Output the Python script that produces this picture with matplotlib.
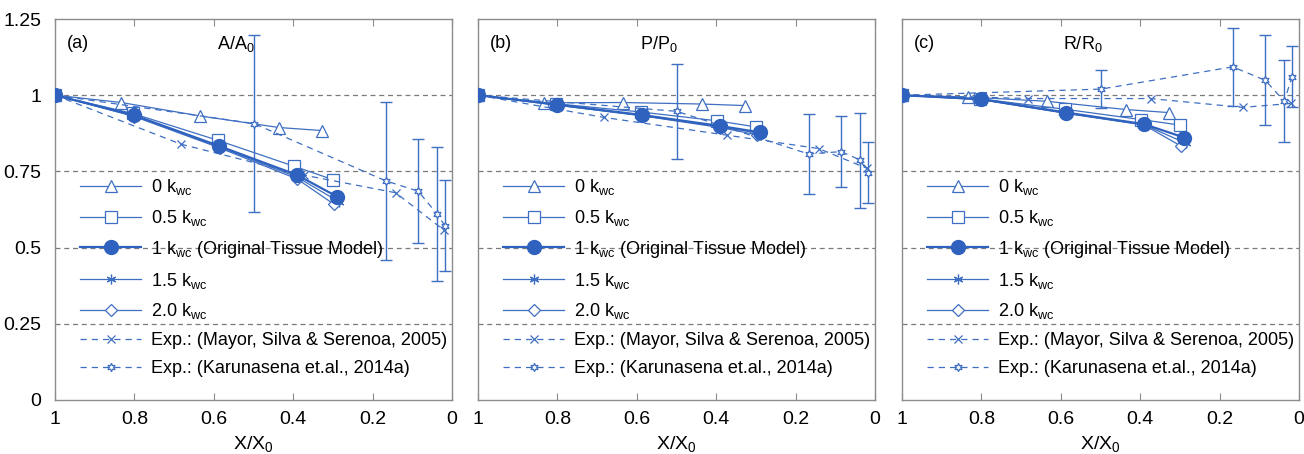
import matplotlib
matplotlib.use("Agg")
import matplotlib.pyplot as plt

plt.rcParams["font.family"] = ["Liberation Sans", "DejaVu Sans"]
plt.rcParams["mathtext.fontset"] = "custom"
plt.rcParams["mathtext.rm"] = "Liberation Sans"
plt.rcParams["mathtext.it"] = "Liberation Sans:italic"

# ---- model results (normalised moisture content X/X0) ----
x_k0 = [1.0, 0.833, 0.635, 0.436, 0.328]
x_k05 = [1.0, 0.804, 0.590, 0.398, 0.300]
x_k1 = [1.0, 0.800, 0.586, 0.390, 0.289]
x_k15 = [1.0, 0.800, 0.585, 0.390, 0.284]
x_k20 = [1.0, 0.800, 0.585, 0.390, 0.297]

# area A/A0
area_k0 = [1.0, 0.976, 0.932, 0.894, 0.884]
area_k05 = [1.0, 0.940, 0.852, 0.767, 0.723]
area_k1 = [1.0, 0.934, 0.833, 0.738, 0.667]
area_k15 = [1.0, 0.932, 0.830, 0.731, 0.650]
area_k20 = [1.0, 0.930, 0.827, 0.725, 0.642]

# perimeter P/P0
perim_k0 = [1.0, 0.975, 0.976, 0.971, 0.966]
perim_k05 = [1.0, 0.972, 0.945, 0.916, 0.896]
perim_k1 = [1.0, 0.969, 0.935, 0.899, 0.878]
perim_k15 = [1.0, 0.968, 0.933, 0.896, 0.874]
perim_k20 = [1.0, 0.967, 0.932, 0.894, 0.870]

# roundness R/R0
round_k0 = [1.0, 0.994, 0.980, 0.953, 0.943]
round_k05 = [1.0, 0.988, 0.954, 0.920, 0.902]
round_k1 = [1.0, 0.987, 0.943, 0.905, 0.861]
round_k15 = [1.0, 0.986, 0.941, 0.903, 0.842]
round_k20 = [1.0, 0.985, 0.940, 0.902, 0.833]

# ---- experimental data ----
x_mayor = [1.0, 0.682, 0.374, 0.142, 0.020]
area_mayor = [1.0, 0.839, 0.738, 0.680, 0.557]
perim_mayor = [1.0, 0.927, 0.869, 0.825, 0.760]
round_mayor = [1.0, 0.989, 0.989, 0.960, 0.973]

x_karu = [1.0, 0.499, 0.167, 0.085, 0.037, 0.018]
area_karu = [1.0, 0.907, 0.719, 0.685, 0.609, 0.572]
area_karu_err = [0.0, 0.290, 0.260, 0.170, 0.220, 0.150]
perim_karu = [1.0, 0.947, 0.807, 0.815, 0.787, 0.745]
perim_karu_err = [0.0, 0.155, 0.130, 0.117, 0.156, 0.100]
round_karu = [1.0, 1.020, 1.093, 1.049, 0.980, 1.060]
round_karu_err = [0.0, 0.063, 0.127, 0.147, 0.134, 0.100]

panel_tags = ["(a)", "(b)", "(c)"]
panel_titles = [r"A/A$_0$", r"P/P$_0$", r"R/R$_0$"]
x_ticks = [1, 0.8, 0.6, 0.4, 0.2, 0]
x_ticklabels = ["1", "0.8", "0.6", "0.4", "0.2", "0"]
y_ticks = [0, 0.25, 0.5, 0.75, 1.0, 1.25]
y_ticklabels = ["0", "0.25", "0.5", "0.75", "1", "1.25"]

legend_labels = [
    r"0 k$_{\mathrm{wc}}$",
    r"0.5 k$_{\mathrm{wc}}$",
    r"1 k$_{\mathrm{wc}}$ (Original Tissue Model)",
    r"1.5 k$_{\mathrm{wc}}$",
    r"2.0 k$_{\mathrm{wc}}$",
    "Exp.: (Mayor, Silva & Serenoa, 2005)",
    "Exp.: (Karunasena et.al., 2014a)",
]

panels = [
    (area_k0, area_k05, area_k1, area_k15, area_k20, area_mayor, area_karu, area_karu_err),
    (perim_k0, perim_k05, perim_k1, perim_k15, perim_k20, perim_mayor, perim_karu, perim_karu_err),
    (round_k0, round_k05, round_k1, round_k15, round_k20, round_mayor, round_karu, round_karu_err),
]

BLUE = "#3F6FC2"
DARK = "#2F62BE"
GRID = "#7a7a7a"
SPINE = "#8c8c8c"
ASTERISK = (6, 2, 0)
HEXSTAR = (6, 1, 0)

W, H = 1304, 454
fig = plt.figure(figsize=(W / 100, H / 100), dpi=100)
lefts = [55, 478, 902]
ax_w, ax_top, ax_bot = 397, 19, 400

for i, (k0, k05, k1, k15, k20, mayor, karu, karu_err) in enumerate(panels):
    ax = fig.add_axes([lefts[i] / W, 1 - ax_bot / H, ax_w / W, (ax_bot - ax_top) / H])
    ax.set_xlim(1, 0)
    ax.set_ylim(0, 1.25)

    for yv in [0.25, 0.5, 0.75, 1.0]:
        ax.axhline(yv, color=GRID, lw=0.9, dashes=(4, 3), zorder=0)

    thin = dict(color=BLUE, lw=0.9, markersize=8, markerfacecolor="white",
                markeredgecolor=BLUE, markeredgewidth=0.9)
    h0, = ax.plot(x_k0, k0, marker="^", **thin)
    h05, = ax.plot(x_k05, k05, marker="s", **thin)
    h15, = ax.plot(x_k15, k15, marker=ASTERISK, **{**thin, "markersize": 7})
    h20, = ax.plot(x_k20, k20, marker="D", **{**thin, "markersize": 6})
    h1, = ax.plot(x_k1, k1, marker="o", color=DARK, lw=1.6, markersize=10,
                  markerfacecolor=DARK, markeredgecolor=DARK, zorder=5)

    hm, = ax.plot(x_mayor, mayor, marker="x", color=BLUE, lw=0.9, dashes=(5, 4),
                  markersize=6, markeredgewidth=0.9)
    ax.errorbar(x_karu, karu, yerr=karu_err, fmt="none", ecolor=BLUE,
                elinewidth=1.0, capsize=4, capthick=1.0)
    hk, = ax.plot(x_karu, karu, marker=HEXSTAR, color=BLUE, lw=0.9, dashes=(5, 4),
                  markersize=6, markerfacecolor="white", markeredgewidth=0.9)

    ax.set_xticks(x_ticks)
    ax.set_xticklabels(x_ticklabels)
    ax.set_yticks(y_ticks)
    if i == 0:
        ax.set_yticklabels(y_ticklabels)
    else:
        ax.set_yticklabels([])
    ax.tick_params(axis="x", direction="in", top=True, length=5, width=0.8,
                   color=SPINE, labelsize=14, pad=8)
    ax.tick_params(axis="y", length=0, labelsize=14, pad=10)
    for s in ax.spines.values():
        s.set_color(SPINE)
        s.set_linewidth(1.0)

    ax.set_xlabel(r"X/X$_0$", fontsize=14, labelpad=4)
    ax.text(0.03, 0.935, panel_tags[i], transform=ax.transAxes, fontsize=13,
            ha="left", va="center")
    ax.text(0.455, 0.935, panel_titles[i], transform=ax.transAxes, fontsize=13,
            ha="center", va="center")

    handles = [h0, h05, h1, h15, h20, hm, hk]
    ax.legend(handles, legend_labels, loc="upper left", bbox_to_anchor=(0.063, 0.585),
              frameon=False, fontsize=13, handlelength=3.4, handletextpad=0.55,
              labelspacing=0.6, numpoints=1, borderaxespad=0, borderpad=0)

fig.savefig("out.png", dpi=100)
